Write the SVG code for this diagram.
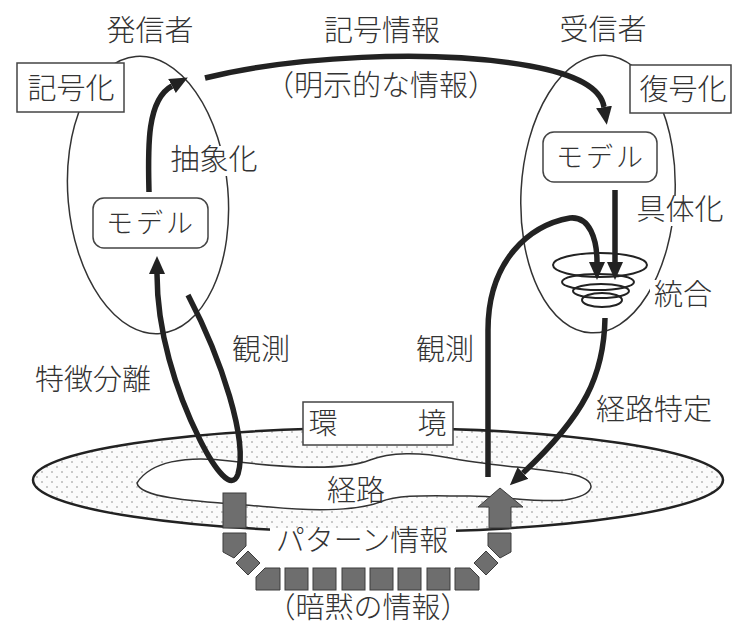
<svg xmlns="http://www.w3.org/2000/svg" width="733" height="629" viewBox="0 0 733 629">
<defs>
<style>
text{font-family:"Noto Sans CJK JP","Noto Sans",sans-serif;font-size:29px;font-weight:300;fill:#333;text-anchor:middle}
.thin{fill:none;stroke:#333;stroke-width:1.5}
.box{fill:#fff;stroke:#444;stroke-width:1.5}
.bg{fill:#fff;stroke:none}
.arr{fill:none;stroke:#222;stroke-width:5.5;stroke-linecap:butt}
.tile{fill:#6e6e6e;stroke:#3c3c3c;stroke-width:1}
</style>
<marker id="ah" markerUnits="userSpaceOnUse" markerWidth="20" markerHeight="18" refX="0" refY="8" orient="auto" viewBox="0 0 20 16">
<path d="M0,0 L18,8 L0,16 Z" fill="#222"/>
</marker>
<pattern id="dots" width="10" height="10" patternUnits="userSpaceOnUse">
<rect width="10" height="10" fill="#fbfbfb"/>
<circle cx="2" cy="2" r="0.8" fill="#8a8a8a"/>
<circle cx="7" cy="7" r="0.8" fill="#8a8a8a"/>
</pattern>
</defs>
<rect width="733" height="629" fill="#fff"/>

<g id="environment">
<ellipse cx="378" cy="480" rx="345" ry="52" fill="url(#dots)" stroke="#222" stroke-width="2.5"/>
<path class="thin" d="M137,483 C150,462 185,455 230,461 C280,467 340,472 370,460 C390,452 420,452 450,458 C490,466 540,468 575,475 C600,482 595,495 565,500 C540,503 500,496 470,496 C430,496 400,494 380,502 C360,510 320,512 270,507 C210,502 140,500 137,483 Z" style="fill:#fff"/>
<rect class="box" x="303" y="402" width="150" height="43"/>
<text x="323" y="434">環</text>
<text x="432" y="434">境</text>
<text x="356" y="501">経路</text>
</g>

<g id="pattern-info">
<rect class="tile" x="223" y="493" width="23" height="35"/>
<polygon class="tile" points="223,533 246,533 246,546 234,558 223,552"/>
<polygon class="tile" points="248,551 260,563 248,575 236,563"/>
<polygon class="tile" points="265,568 280,568 280,590 256,590 256,577"/>
<rect class="tile" x="285" y="568" width="23" height="22"/>
<rect class="tile" x="313" y="568" width="23" height="22"/>
<rect class="tile" x="342" y="568" width="23" height="22"/>
<rect class="tile" x="370" y="568" width="23" height="22"/>
<rect class="tile" x="398" y="568" width="23" height="22"/>
<rect class="tile" x="427" y="568" width="23" height="22"/>
<polygon class="tile" points="455,568 470,568 479,577 479,590 455,590"/>
<polygon class="tile" points="486,551 498,563 486,575 474,563"/>
<polygon class="tile" points="488,533 511,533 511,552 500,558 488,546"/>
<polygon class="tile" points="489,528 489,507 478,507 500,488 523,507 511,507 511,528"/>
<rect class="bg" x="270" y="528" width="186" height="29"/>
<text x="362" y="551">パターン情報</text>
<text x="368" y="618">（暗黙の情報）</text>
</g>

<g id="sender">
<ellipse class="thin" cx="148" cy="195" rx="80" ry="139" transform="rotate(-5 148 195)"/>
<rect class="box" x="17" y="63" width="107" height="49"/>
<text x="71" y="99">記号化</text>
<text x="150" y="41">発信者</text>
<rect class="box" x="93" y="198" width="115" height="50" rx="11"/>
<text x="151" y="233" style="font-size:27px;letter-spacing:3px">モデル</text>
</g>

<g id="receiver">
<ellipse class="thin" cx="598" cy="194" rx="77" ry="139" transform="rotate(3 598 194)"/>
<rect class="box" x="630" y="65" width="101" height="48"/>
<text x="683" y="100">復号化</text>
<text x="603" y="40">受信者</text>
<rect class="box" x="543" y="132" width="114" height="50" rx="11"/>
<text x="601" y="167" style="font-size:27px;letter-spacing:3px">モデル</text>
<g id="integration" class="thin" style="stroke:#222;stroke-width:2">
<ellipse cx="600" cy="265" rx="47" ry="12"/>
<ellipse cx="598" cy="282" rx="36" ry="8"/>
<ellipse cx="601" cy="291" rx="28" ry="7"/>
<ellipse cx="602" cy="300" rx="20" ry="7"/>
</g>
</g>

<g id="labels">
<rect class="bg" x="166" y="146" width="96" height="30"/>
<text x="214" y="170">抽象化</text>
<rect class="bg" x="633" y="196" width="94" height="30"/>
<text x="680" y="220">具体化</text>
<rect class="bg" x="650" y="280" width="66" height="31"/>
<text x="683" y="305">統合</text>
<text x="382" y="41">記号情報</text>
<text x="381" y="96">（明示的な情報）</text>
<text x="93" y="390">特徴分離</text>
<text x="261" y="360">観測</text>
<text x="445" y="360">観測</text>
<text x="654" y="420">経路特定</text>
</g>

<g id="connectors">
<path class="arr" marker-end="url(#ah)" d="M205,78 C290,57 430,48 530,66 C575,74 601,88 604,107"/>
<path class="arr" marker-end="url(#ah)" d="M149,192 C148,150 146,100 172,86"/>
<path class="arr" marker-end="url(#ah)" d="M188,295 C222,360 248,440 238,474 C232,492 215,470 200,440 C175,390 157,330 157,274"/>
<path class="arr" marker-end="url(#ah)" d="M615,190 L615,262"/>
<path class="arr" marker-end="url(#ah)" d="M488,477 L488,330 C488,260 530,225 570,218 C590,216 597,240 597,262"/>
<path class="arr" marker-end="url(#ah)" d="M605,318 C604,375 585,415 523,473"/>
</g>
</svg>
